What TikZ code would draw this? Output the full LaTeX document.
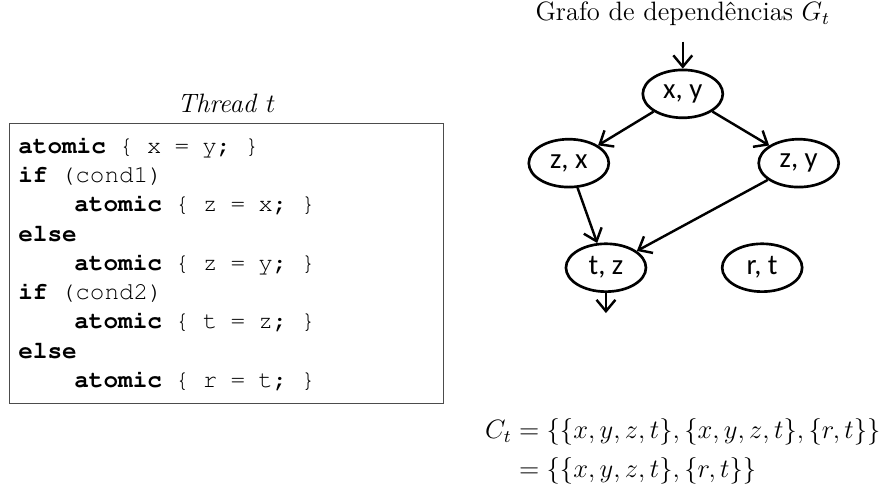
\documentclass[tikz,border=0pt]{standalone}
\usepackage{amsmath}
\usepackage{fontspec}
\newfontfamily\nodefont{Carlito}
\usepackage{tikz}
\usetikzlibrary{arrows.meta,positioning,shapes.geometric}

\newcommand{\kw}[1]{\textbf{#1}}
\newcommand{\ind}{\hspace*{2.3em}}
\newcommand{\courier}{\fontencoding{T1}\fontfamily{pcr}\fontsize{11}{13.2}\selectfont}
\newcommand{\fixspaces}{\spaceskip=0.54em\relax\xspaceskip=0.54em\relax}

\begin{document}
\begin{tikzpicture}[
    every node/.style={font=\fontsize{12}{14.5}\selectfont},
    var/.style={draw, ellipse, line width=1.2pt, minimum width=1.27cm, minimum height=0.76cm, inner sep=0pt, font=\nodefont\fontsize{13}{15}\selectfont},
    dep/.style={-{Straight Barb[length=1.8mm,width=3mm]}, line width=1.1pt},
    codebox/.style={draw=black!70, line width=0.6pt, align=left, text width=6.61cm, inner xsep=0.14cm, minimum height=4.45cm, font=\courier}
]
\useasboundingbox (0,0) rectangle (14.05,-7.67);

% code of the thread
\node[codebox, anchor=north west] (code) at (0.14,-1.95) {\fixspaces
\kw{atomic} \{ x = y; \}\\
\kw{if} (cond1)\\
\ind\kw{atomic} \{ z = x; \}\\
\kw{else}\\
\ind\kw{atomic} \{ z = y; \}\\
\kw{if} (cond2)\\
\ind\kw{atomic} \{ t = z; \}\\
\kw{else}\\
\ind\kw{atomic} \{ r = t; \}};
\node[above=1pt of code] (thread) {\textit{Thread} $t$};

% dependency graph
\node[anchor=base] (title) at (10.84,-0.33) {Grafo de dependências $G_t$};
\node[var] (xy) at (10.84,-1.49) {x, y};
\node[var] (zx) at (9.03,-2.59) {z, x};
\node[var] (zy) at (12.68,-2.59) {z, y};
\node[var] (tz) at (9.62,-4.25) {t, z};
\node[var] (rt) at (12.10,-4.25) {r, t};
\coordinate (in) at (10.84,-0.66);
\coordinate (out) at (9.62,-4.97);

\draw[dep] (in) -- (xy);
\draw[dep] (xy) -- (zx);
\draw[dep] (xy) -- (zy);
\draw[dep] (zx) -- (tz);
\draw[dep] (zy) -- (tz);
\draw[dep] (tz) -- (out);

% components
\node (comp) at (10.84,-7.17) {$\begin{aligned}
  C_t &= \{\{x,y,z,t\},\{x,y,z,t\},\{r,t\}\}\\
      &= \{\{x,y,z,t\},\{r,t\}\}
\end{aligned}$};
\end{tikzpicture}
\end{document}
